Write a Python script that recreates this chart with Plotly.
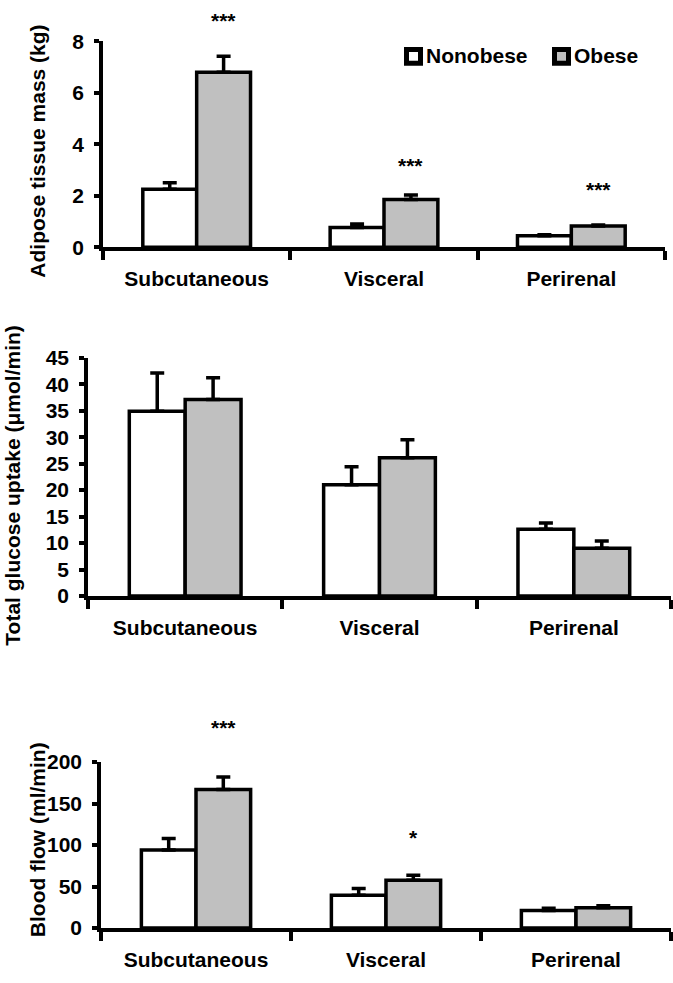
import plotly.graph_objects as go

# ---------------- data ----------------
categories = ["Subcutaneous", "Visceral", "Perirenal"]
series_names = ["Nonobese", "Obese"]

mass_nonobese = [2.26, 0.77, 0.45]
mass_nonobese_err = [0.25, 0.14, 0.04]
mass_obese = [6.8, 1.86, 0.83]
mass_obese_err = [0.62, 0.17, 0.04]
mass_stars = ["***", "***", "***"]

glu_nonobese = [34.9, 21.0, 12.6]
glu_nonobese_err = [7.2, 3.4, 1.2]
glu_obese = [37.1, 26.1, 9.0]
glu_obese_err = [4.1, 3.4, 1.4]

flow_nonobese = [94, 39.5, 21]
flow_nonobese_err = [14, 8, 3]
flow_obese = [167, 57.5, 24.5]
flow_obese_err = [15, 6, 2.5]
flow_stars = ["***", "*", ""]

y1_title = "Adipose tissue mass (kg)"
y2_title = "Total glucose uptake (μmol/min)"
y3_title = "Blood flow (ml/min)"

# ---------------- layout constants ----------------
W, H = 673, 983
FONT = dict(family="Liberation Sans, Arial, sans-serif", size=21, color="black", weight="bold")
GRAY = "#c0c0c0"
BARGAP = 0.425
LW = 3.5

# star label heights (axis units, bottom of text box)
mass_star_level = [8.3, 2.67, 1.71]
flow_star_level = [225, 93, 0]

def xd(a, b):
    return [a / W, b / W]

def yd(top, bottom):
    return [1 - bottom / H, 1 - top / H]

panels = [
    dict(ax="", x=xd(103, 665), y=yd(30, 241), rng=[0, 8], dtick=2,
         non=mass_nonobese, nonerr=mass_nonobese_err, ob=mass_obese, oberr=mass_obese_err),
    dict(ax="2", x=xd(88, 671), y=yd(354, 598), rng=[0, 45], dtick=5,
         non=glu_nonobese, nonerr=glu_nonobese_err, ob=glu_obese, oberr=glu_obese_err),
    dict(ax="3", x=xd(101, 671), y=yd(768, 938), rng=[0, 200], dtick=50,
         non=flow_nonobese, nonerr=flow_nonobese_err, ob=flow_obese, oberr=flow_obese_err),
]

fig = go.Figure()
for i, p in enumerate(panels):
    for name, vals, errs, color in [
        (series_names[0], p["non"], p["nonerr"], "white"),
        (series_names[1], p["ob"], p["oberr"], GRAY),
    ]:
        fig.add_trace(go.Bar(
            x=categories, y=vals, name=name, showlegend=False,
            xaxis="x" + p["ax"], yaxis="y" + p["ax"],
            marker=dict(color=color, line=dict(color="black", width=LW)),
            error_y=dict(type="data", symmetric=False, array=errs,
                         arrayminus=[0] * len(errs), color="black",
                         thickness=3.5, width=7),
            cliponaxis=False,
        ))

layout = dict(
    width=W, height=H, margin=dict(l=0, r=0, t=0, b=0),
    paper_bgcolor="white", plot_bgcolor="white",
    barmode="group", bargap=BARGAP, bargroupgap=0,
    font=FONT, showlegend=False,
)
for p in panels:
    layout["xaxis" + p["ax"]] = dict(
        domain=p["x"], anchor="y" + p["ax"], type="category",
        tickson="boundaries", ticks="outside", ticklen=9, tickwidth=LW, tickcolor="black",
        showline=True, linewidth=LW, linecolor="black", showgrid=False,
        tickfont=FONT, ticklabelstandoff=10,
    )
    layout["yaxis" + p["ax"]] = dict(
        domain=p["y"], anchor="x" + p["ax"], range=p["rng"], dtick=p["dtick"],
        ticks="outside", ticklen=5, tickwidth=LW, tickcolor="black",
        showline=True, linewidth=LW, linecolor="black", showgrid=False, zeroline=False,
        tickfont=FONT, ticklabelstandoff=6,
    )
fig.update_layout(**layout)

# legend (drawn manually to match the compact square + label style)
legend_items = [(series_names[0], "white", 404), (series_names[1], GRAY, 552)]
for name, color, x0 in legend_items:
    fig.add_shape(type="rect", xref="paper", yref="paper",
                  x0=(x0 + 2.5) / W, x1=(x0 + 16.5) / W,
                  y0=1 - 52.5 / H, y1=1 - 38.5 / H,
                  fillcolor=color, line=dict(color="black", width=5))
    fig.add_annotation(text=name, x=(x0 + 20) / W, y=1 - 45 / H, xref="paper", yref="paper",
                       showarrow=False, font=FONT, xanchor="left", yanchor="middle")

# y-axis titles
for title, xc, yc in [(y1_title, 38, 143), (y2_title, 13, 485), (y3_title, 37, 848)]:
    fig.add_annotation(text=title, x=xc / W, y=1 - yc / H, xref="paper", yref="paper",
                       textangle=-90, showarrow=False, font=FONT,
                       xanchor="center", yanchor="middle")

# significance stars above obese bars
offset = (1 - BARGAP) / 4
for stars, levels, p in [(mass_stars, mass_star_level, panels[0]),
                         (flow_stars, flow_star_level, panels[2])]:
    d0, d1 = p["y"]
    r0, r1 = p["rng"]
    for k, s in enumerate(stars):
        if not s:
            continue
        yp = d0 + (levels[k] - r0) / (r1 - r0) * (d1 - d0)
        fig.add_annotation(text=s, x=k + offset, y=yp,
                           xref="x" + p["ax"], yref="paper", showarrow=False,
                           font=FONT, yanchor="bottom")

fig.write_html("out.html")
